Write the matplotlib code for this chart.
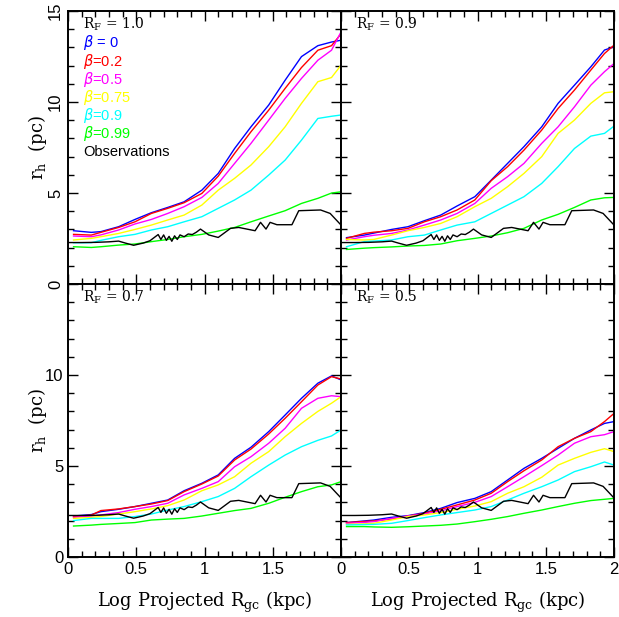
import matplotlib
matplotlib.use("Agg")
import matplotlib.pyplot as plt
from matplotlib.ticker import MultipleLocator

# model grid in log projected Rgc (kpc)
x_model = [0.04, 0.17, 0.24, 0.37, 0.49, 0.61, 0.73, 0.85, 0.98, 1.10,
           1.22, 1.34, 1.47, 1.59, 1.71, 1.83, 1.93, 2.0]

betas = ["0", "0.2", "0.5", "0.75", "0.9", "0.99"]
colors = ["#0000ff", "#ff0000", "#ff00ff", "#ffff00", "#00ffff", "#00ff00"]
rf_labels = ["1.0", "0.9", "0.7", "0.5"]

# R_F = 1.0
rf10_b0 = [2.93, 2.84, 2.88, 3.15, 3.55, 3.92, 4.21, 4.52, 5.16, 6.08, 7.45, 8.64, 9.84, 11.2, 12.5, 13.1, 13.3, 13.4]
rf10_b02 = [2.73, 2.69, 2.84, 3.11, 3.42, 3.88, 4.16, 4.47, 4.98, 5.93, 7.18, 8.37, 9.56, 10.75, 11.9, 12.85, 13.1, 13.75]
rf10_b05 = [2.64, 2.60, 2.70, 2.97, 3.30, 3.55, 3.88, 4.25, 4.76, 5.53, 6.63, 7.73, 9.01, 10.2, 11.3, 12.3, 12.85, 13.86]
rf10_b075 = [2.42, 2.51, 2.60, 2.78, 3.0, 3.24, 3.52, 3.79, 4.34, 5.16, 5.81, 6.54, 7.55, 8.64, 9.93, 11.12, 11.35, 12.03]
rf10_b09 = [2.27, 2.27, 2.40, 2.60, 2.73, 2.97, 3.15, 3.42, 3.70, 4.16, 4.62, 5.16, 5.99, 6.81, 7.91, 9.10, 9.22, 9.29]
rf10_b099 = [2.05, 2.01, 2.05, 2.14, 2.20, 2.33, 2.45, 2.60, 2.73, 2.91, 3.11, 3.42, 3.74, 4.03, 4.43, 4.71, 5.0, 5.07]

# R_F = 0.9
rf09_b0 = [2.55, 2.69, 2.80, 3.0, 3.15, 3.48, 3.79, 4.29, 4.80, 5.71, 6.63, 7.55, 8.64, 9.93, 10.93, 11.94, 12.86, 13.04]
rf09_b02 = [2.51, 2.78, 2.85, 2.93, 3.06, 3.42, 3.70, 4.07, 4.62, 5.68, 6.45, 7.36, 8.46, 9.65, 10.66, 11.76, 12.67, 13.13]
rf09_b05 = [2.42, 2.60, 2.68, 2.78, 2.97, 3.24, 3.52, 3.88, 4.43, 5.26, 5.90, 6.63, 7.73, 8.64, 9.74, 10.93, 11.67, 12.12]
rf09_b075 = [2.45, 2.42, 2.45, 2.69, 2.93, 3.11, 3.33, 3.70, 4.25, 4.71, 5.35, 6.08, 7.0, 8.28, 9.01, 9.93, 10.51, 10.57]
rf09_b09 = [2.05, 2.33, 2.36, 2.42, 2.60, 2.69, 2.97, 3.24, 3.42, 3.88, 4.34, 4.80, 5.53, 6.45, 7.45, 8.13, 8.28, 8.68]
rf09_b099 = [1.90, 1.97, 2.0, 2.04, 2.09, 2.12, 2.20, 2.38, 2.51, 2.64, 2.82, 3.06, 3.52, 3.83, 4.21, 4.62, 4.74, 4.76]

# R_F = 0.7
rf07_b0 = [2.25, 2.33, 2.49, 2.62, 2.77, 2.95, 3.13, 3.64, 4.05, 4.51, 5.42, 6.03, 6.89, 7.80, 8.72, 9.55, 9.95, 9.73]
rf07_b02 = [2.22, 2.30, 2.55, 2.64, 2.77, 2.91, 3.10, 3.59, 4.01, 4.45, 5.33, 5.93, 6.76, 7.62, 8.53, 9.45, 9.91, 9.78]
rf07_b05 = [2.18, 2.24, 2.31, 2.44, 2.62, 2.77, 2.95, 3.41, 3.77, 4.14, 4.96, 5.51, 6.25, 7.07, 8.17, 8.72, 8.86, 8.81]
rf07_b075 = [2.12, 2.18, 2.22, 2.36, 2.49, 2.64, 2.82, 3.13, 3.64, 3.96, 4.41, 5.15, 5.79, 6.61, 7.34, 8.0, 8.45, 8.81]
rf07_b09 = [2.0, 2.12, 2.12, 2.12, 2.22, 2.36, 2.58, 2.77, 3.04, 3.32, 3.77, 4.41, 5.05, 5.60, 6.06, 6.41, 6.65, 6.98]
rf07_b099 = [1.70, 1.75, 1.79, 1.84, 1.89, 2.03, 2.08, 2.12, 2.25, 2.40, 2.55, 2.67, 2.95, 3.28, 3.59, 3.86, 3.96, 4.14]

# R_F = 0.5
rf05_b0 = [1.89, 1.98, 2.03, 2.18, 2.27, 2.44, 2.67, 2.99, 3.22, 3.59, 4.23, 4.87, 5.42, 5.97, 6.52, 6.98, 7.34, 7.44]
rf05_b02 = [1.89, 1.95, 1.98, 2.09, 2.25, 2.40, 2.62, 2.86, 3.13, 3.50, 4.14, 4.74, 5.33, 6.06, 6.52, 6.89, 7.44, 7.89]
rf05_b05 = [1.85, 1.90, 1.94, 2.12, 2.25, 2.36, 2.53, 2.77, 3.0, 3.32, 3.86, 4.41, 5.02, 5.60, 6.25, 6.61, 6.72, 6.89]
rf05_b075 = [1.79, 1.82, 1.85, 2.03, 2.22, 2.31, 2.44, 2.62, 2.80, 3.04, 3.50, 3.86, 4.38, 5.05, 5.42, 5.75, 5.95, 5.79]
rf05_b09 = [1.76, 1.78, 1.79, 1.85, 2.0, 2.16, 2.31, 2.44, 2.58, 2.77, 3.13, 3.50, 3.86, 4.23, 4.69, 4.96, 5.22, 5.05]
rf05_b099 = [1.67, 1.67, 1.65, 1.63, 1.66, 1.70, 1.74, 1.81, 1.94, 2.07, 2.22, 2.40, 2.58, 2.77, 2.95, 3.10, 3.17, 3.22]

# observed clusters (same in every panel)
x_obs = [0.0, 0.1, 0.2, 0.3, 0.37, 0.42, 0.48, 0.55, 0.6, 0.63, 0.66, 0.68, 0.70, 0.72,
         0.74, 0.76, 0.78, 0.80, 0.82, 0.85, 0.88, 0.91, 0.94, 0.97, 1.03, 1.10, 1.19,
         1.25, 1.37, 1.41, 1.45, 1.48, 1.53, 1.64, 1.69, 1.85, 1.92, 2.0]
y_obs = [2.28, 2.28, 2.29, 2.32, 2.36, 2.25, 2.13, 2.25, 2.38, 2.55, 2.72, 2.45, 2.70, 2.40,
         2.62, 2.35, 2.65, 2.45, 2.70, 2.60, 2.75, 2.72, 2.85, 3.02, 2.70, 2.56, 3.06,
         3.11, 2.93, 3.39, 3.02, 3.39, 3.26, 3.26, 4.03, 4.07, 3.88, 3.24]

panels = [
    [rf10_b0, rf10_b02, rf10_b05, rf10_b075, rf10_b09, rf10_b099],
    [rf09_b0, rf09_b02, rf09_b05, rf09_b075, rf09_b09, rf09_b099],
    [rf07_b0, rf07_b02, rf07_b05, rf07_b075, rf07_b09, rf07_b099],
    [rf05_b0, rf05_b02, rf05_b05, rf05_b075, rf05_b09, rf05_b099],
]

fig, axes = plt.subplots(2, 2, figsize=(6.19, 6.17), dpi=100)
fig.subplots_adjust(left=0.110, right=0.992, top=0.982, bottom=0.0973,
                    wspace=0, hspace=0)

sans = "Liberation Sans"
serif = "DejaVu Serif"

for i, ax in enumerate(axes.flat):
    for ys, c in zip(panels[i], colors):
        ax.plot(x_model, ys, color=c, lw=1.0)
    ax.plot(x_obs, y_obs, color="black", lw=1.0)

    ax.set_xlim(0, 2)
    ax.set_ylim(0, 15)
    ax.xaxis.set_minor_locator(MultipleLocator(0.1))
    ax.yaxis.set_minor_locator(MultipleLocator(1))
    ax.tick_params(which="both", direction="in", top=True, right=True,
                   width=1.0, labelsize=12)
    ax.tick_params(which="major", length=7)
    ax.tick_params(which="minor", length=4)
    for s in ax.spines.values():
        s.set_linewidth(1.4)
    for lab in ax.get_xticklabels() + ax.get_yticklabels():
        lab.set_family(sans)

    ax.text(0.055, 0.95, r"R$_{\rm F}$ = " + rf_labels[i], transform=ax.transAxes,
            family=serif, math_fontfamily="dejavuserif", fontsize=10,
            ha="left", va="center")

    row, col = divmod(i, 2)
    if row == 1:
        if col == 0:
            ax.set_xticks([0, 0.5, 1, 1.5, 2], ["0", "0.5", "1", "1.5", ""], family=sans)
        else:
            ax.set_xticks([0, 0.5, 1, 1.5, 2], ["0", "0.5", "1", "1.5", "2"], family=sans)
        ax.set_xlabel(r"Log Projected R$_{\rm gc}$ (kpc)", family=serif,
                      math_fontfamily="dejavuserif", fontsize=13, va="center")
        ax.xaxis.set_label_coords(0.5, -0.168)
    else:
        ax.set_xticks([0, 0.5, 1, 1.5, 2])
        ax.tick_params(labelbottom=False)
    if col == 0:
        if row == 0:
            ax.set_yticks([0, 5, 10, 15], ["0", "5", "10", "15"], family=sans,
                          rotation=90, va="center")
        else:
            ax.set_yticks([0, 5, 10, 15], ["0", "5", "10", ""], family=sans)
        ax.set_ylabel(r"r$_{\rm h}$  (pc)", family=serif,
                      math_fontfamily="dejavuserif", fontsize=13, va="center")
        ax.yaxis.set_label_coords(-0.113, 0.5)
    else:
        ax.set_yticks([0, 5, 10, 15])
        ax.tick_params(labelleft=False)

# legend text in the first panel
ax0 = axes[0, 0]
step = 0.0665
for k, (b, c) in enumerate(zip(betas, colors)):
    label = r"$\beta$ = 0" if b == "0" else r"$\beta$=" + b
    ax0.text(0.055, 0.95 - step * (k + 1), label, transform=ax0.transAxes,
             color=c, family=sans, fontsize=10.5, ha="left", va="center")
ax0.text(0.055, 0.95 - step * 7, "Observations", transform=ax0.transAxes,
         color="black", family=sans, fontsize=10.5, ha="left", va="center")

fig.savefig("out.png", dpi=100)
